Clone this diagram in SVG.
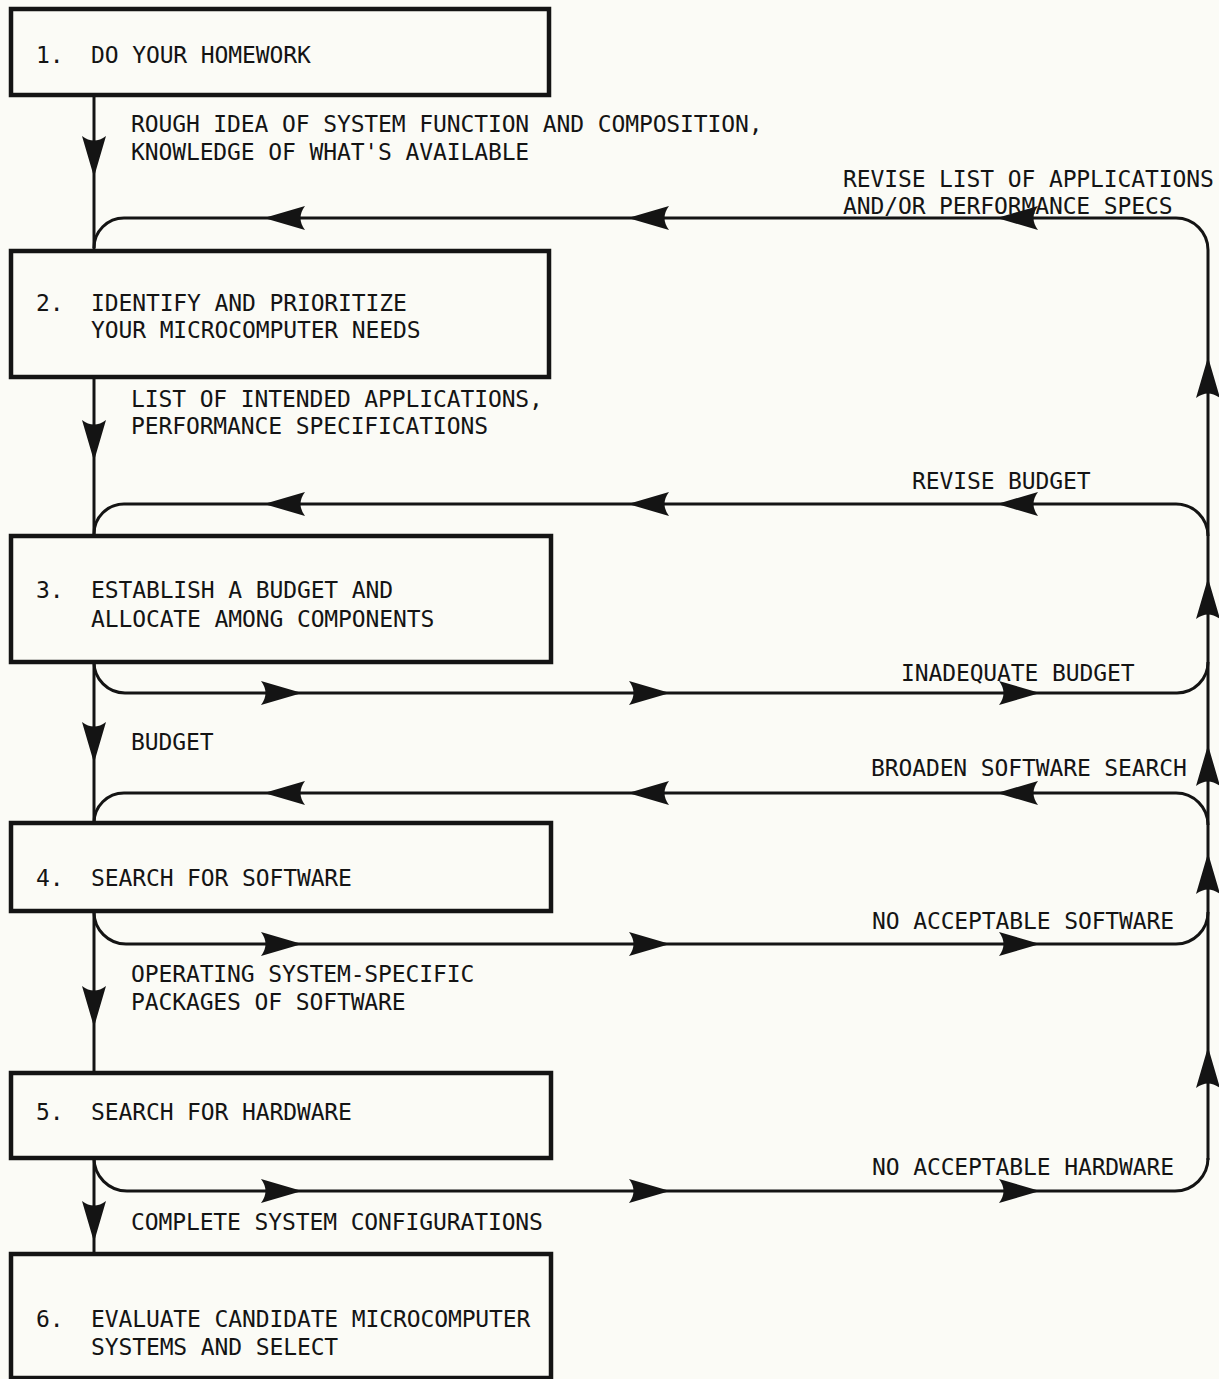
<svg xmlns="http://www.w3.org/2000/svg" xmlns:xlink="http://www.w3.org/1999/xlink" width="1219" height="1379" viewBox="0 0 1219 1379">
<style>
.box{fill:none;stroke:#141414;stroke-width:4.5}
.ln{fill:none;stroke:#141414;stroke-width:3}
.t{font-family:"DejaVu Sans Mono","Liberation Mono",monospace;font-size:23px;letter-spacing:-0.12px;fill:#141414}
</style>
<defs>
<path id="ah" d="M0,0 L-41,-12 Q-32,0 -41,12 Z" fill="#141414"/>
</defs>
<rect x="0" y="0" width="1219" height="1379" fill="#fbfbf6"/>

<g id="connectors">
<path class="ln" d="M94,95 L94,251"/>
<path class="ln" d="M94,377 L94,536"/>
<path class="ln" d="M94,662 L94,823"/>
<path class="ln" d="M94,911 L94,1073"/>
<path class="ln" d="M94,1158 L94,1254"/>
<use xlink:href="#ah" transform="translate(94,177) rotate(90)"/>
<use xlink:href="#ah" transform="translate(94,461) rotate(90)"/>
<use xlink:href="#ah" transform="translate(94,763) rotate(90)"/>
<use xlink:href="#ah" transform="translate(94,1027) rotate(90)"/>
<use xlink:href="#ah" transform="translate(94,1242) rotate(90)"/>

<path class="ln" d="M1208,1160 L1208,250 A32,32 0 0 0 1176,218 L124,218 A30,30 0 0 0 94,248"/>
<path class="ln" d="M1208,536 A32,32 0 0 0 1176,504 L124,504 A30,30 0 0 0 94,534"/>
<path class="ln" d="M1208,825 A32,32 0 0 0 1176,793 L124,793 A30,30 0 0 0 94,823"/>
<path class="ln" d="M94,662 A31,31 0 0 0 125,693 L1177,693 A31,31 0 0 0 1208,662"/>
<path class="ln" d="M94,912 A32,32 0 0 0 126,944 L1176,944 A32,32 0 0 0 1208,912"/>
<path class="ln" d="M94,1158 A33,33 0 0 0 127,1191 L1175,1191 A33,33 0 0 0 1208,1158"/>

<use xlink:href="#ah" transform="translate(264,218) rotate(180)"/>
<use xlink:href="#ah" transform="translate(628,218) rotate(180)"/>
<use xlink:href="#ah" transform="translate(997,218) rotate(180)"/>
<use xlink:href="#ah" transform="translate(264,504) rotate(180)"/>
<use xlink:href="#ah" transform="translate(628,504) rotate(180)"/>
<use xlink:href="#ah" transform="translate(997,504) rotate(180)"/>
<use xlink:href="#ah" transform="translate(264,793) rotate(180)"/>
<use xlink:href="#ah" transform="translate(628,793) rotate(180)"/>
<use xlink:href="#ah" transform="translate(997,793) rotate(180)"/>
<use xlink:href="#ah" transform="translate(302,693)"/>
<use xlink:href="#ah" transform="translate(670,693)"/>
<use xlink:href="#ah" transform="translate(1040,693)"/>
<use xlink:href="#ah" transform="translate(302,944)"/>
<use xlink:href="#ah" transform="translate(670,944)"/>
<use xlink:href="#ah" transform="translate(1040,944)"/>
<use xlink:href="#ah" transform="translate(302,1191)"/>
<use xlink:href="#ah" transform="translate(670,1191)"/>
<use xlink:href="#ah" transform="translate(1040,1191)"/>
<use xlink:href="#ah" transform="translate(1208,357) rotate(-90)"/>
<use xlink:href="#ah" transform="translate(1208,578) rotate(-90)"/>
<use xlink:href="#ah" transform="translate(1208,745) rotate(-90)"/>
<use xlink:href="#ah" transform="translate(1208,853) rotate(-90)"/>
<use xlink:href="#ah" transform="translate(1208,1047) rotate(-90)"/>

<text class="t" x="131" y="132">ROUGH IDEA OF SYSTEM FUNCTION AND COMPOSITION,</text>
<text class="t" x="131" y="160">KNOWLEDGE OF WHAT'S AVAILABLE</text>
<text class="t" x="843" y="187">REVISE LIST OF APPLICATIONS</text>
<text class="t" x="843" y="214">AND/OR PERFORMANCE SPECS</text>
<text class="t" x="131" y="407">LIST OF INTENDED APPLICATIONS,</text>
<text class="t" x="131" y="434">PERFORMANCE SPECIFICATIONS</text>
<text class="t" x="912" y="489">REVISE BUDGET</text>
<text class="t" x="901" y="681">INADEQUATE BUDGET</text>
<text class="t" x="131" y="750">BUDGET</text>
<text class="t" x="871" y="776">BROADEN SOFTWARE SEARCH</text>
<text class="t" x="872" y="929">NO ACCEPTABLE SOFTWARE</text>
<text class="t" x="131" y="982">OPERATING SYSTEM-SPECIFIC</text>
<text class="t" x="131" y="1010">PACKAGES OF SOFTWARE</text>
<text class="t" x="872" y="1175">NO ACCEPTABLE HARDWARE</text>
<text class="t" x="131" y="1230">COMPLETE SYSTEM CONFIGURATIONS</text>
</g>

<g id="n1">
<rect class="box" x="11" y="9" width="538" height="86"/>
<text class="t" y="63"><tspan x="36">1.</tspan><tspan x="91">DO YOUR HOMEWORK</tspan></text>
</g>
<g id="n2">
<rect class="box" x="11" y="251" width="538" height="126"/>
<text class="t" y="311"><tspan x="36">2.</tspan><tspan x="91">IDENTIFY AND PRIORITIZE</tspan></text>
<text class="t" x="91" y="338">YOUR MICROCOMPUTER NEEDS</text>
</g>
<g id="n3">
<rect class="box" x="11" y="536" width="540" height="126"/>
<text class="t" y="598"><tspan x="36">3.</tspan><tspan x="91">ESTABLISH A BUDGET AND</tspan></text>
<text class="t" x="91" y="627">ALLOCATE AMONG COMPONENTS</text>
</g>
<g id="n4">
<rect class="box" x="11" y="823" width="540" height="88"/>
<text class="t" y="886"><tspan x="36">4.</tspan><tspan x="91">SEARCH FOR SOFTWARE</tspan></text>
</g>
<g id="n5">
<rect class="box" x="11" y="1073" width="540" height="85"/>
<text class="t" y="1120"><tspan x="36">5.</tspan><tspan x="91">SEARCH FOR HARDWARE</tspan></text>
</g>
<g id="n6">
<rect class="box" x="11" y="1254" width="540" height="124"/>
<text class="t" y="1327"><tspan x="36">6.</tspan><tspan x="91">EVALUATE CANDIDATE MICROCOMPUTER</tspan></text>
<text class="t" x="91" y="1355">SYSTEMS AND SELECT</text>
</g>
</svg>
